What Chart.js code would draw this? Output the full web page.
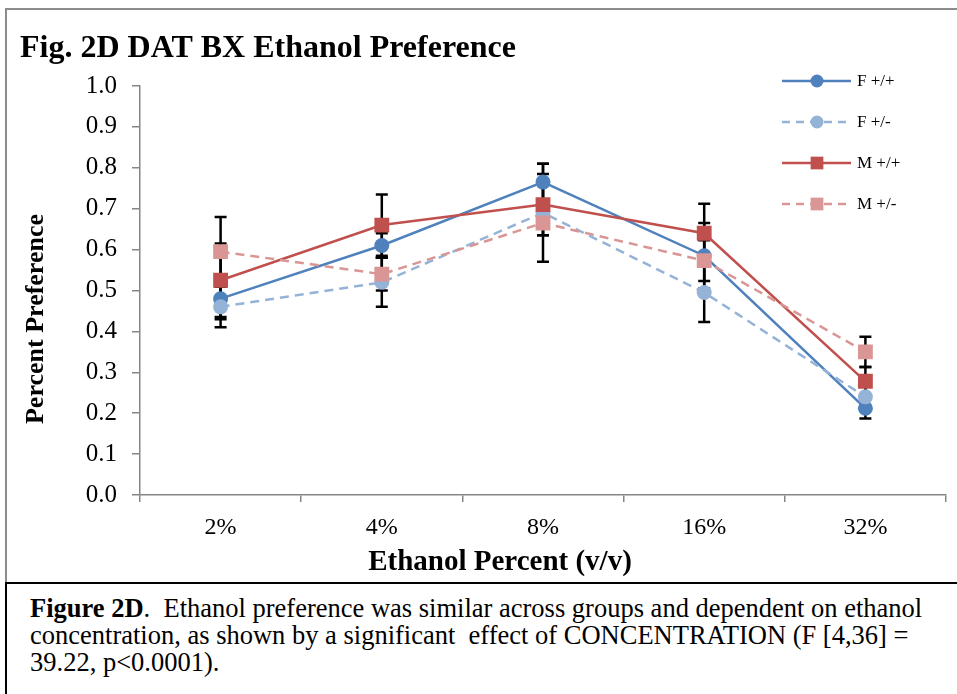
<!DOCTYPE html>
<html>
<head>
<meta charset="utf-8">
<script src="https://cdn.jsdelivr.net/npm/chart.js@4.4.0/dist/chart.umd.min.js"></script>
<style>
body { margin: 0; background: #fff; width: 957px; height: 694px; overflow: hidden; position: relative; font-family: "Liberation Serif", "Times New Roman", serif; }
#frame { position: absolute; left: 5px; top: 8px; width: 1000px; height: 580px; border-left: 2px solid #8c8c8c; border-top: 2px solid #8c8c8c; }
#wrap { position: absolute; left: 0; top: 0; width: 957px; height: 582px; }
#caption { position: absolute; left: 5px; top: 582px; width: 1000px; height: 200px; border: 2px solid #000; background: #fff; }
#caption p { margin: 0; position: absolute; left: 23px; top: 11px; width: 900px; font-size: 26.5px; line-height: 27px; color: #000; }
</style>
</head>
<body>
<div id="frame"></div>
<div id="wrap"><canvas id="chart" width="957" height="582"></canvas></div>
<div id="caption"><p><b>Figure 2D</b>.&nbsp; Ethanol preference was similar across groups and dependent on ethanol concentration, as shown by a significant&nbsp; effect of CONCENTRATION (F [4,36] = 39.22, p&lt;0.0001).</p></div>
<script>
'use strict';
// data
const categories = ['2%', '4%', '8%', '16%', '32%'];
const seriesNames = ['F +/+', 'F +/-', 'M +/+', 'M +/-'];
const fWild = [0.48, 0.61, 0.765, 0.585, 0.212];
const fHet = [0.46, 0.52, 0.69, 0.495, 0.24];
const mWild = [0.525, 0.66, 0.71, 0.64, 0.278];
const mHet = [0.595, 0.54, 0.665, 0.573, 0.35];
const fWildErr = [0.05, 0.03, 0.045, 0.08, 0.025];
const fHetErr = [0.05, 0.06, 0.12, 0.072, 0.03];
const mWildErr = [0.09, 0.075, 0.075, 0.072, 0.035];
const mHetErr = [0.085, 0.04, 0.03, 0.05, 0.037];

const serif = '"Liberation Serif", "Times New Roman", serif';
const axisGray = '#868686';

function series(label, data, err, color, style, dashed, order) {
    return {
        label: label,
        data: data,
        errors: err,
        borderColor: color,
        backgroundColor: color,
        borderWidth: 2.5,
        borderDash: dashed ? [9, 6] : [],
        pointStyle: style,
        pointRadius: style === 'rect' ? 10.5 : 7.5,
        pointHoverRadius: style === 'rect' ? 10.5 : 7.5,
        pointBorderWidth: 0,
        tension: 0,
        order: order
    };
}

const extras = {
    id: 'extras',
    beforeDatasetsDraw(chart) {
        const ctx = chart.ctx;
        const y = chart.scales.y;
        ctx.save();
        ctx.strokeStyle = '#000';
        ctx.lineWidth = 2.5;
        chart.data.datasets.forEach(function (ds, i) {
            const meta = chart.getDatasetMeta(i);
            ds.data.forEach(function (v, j) {
                const x = meta.data[j].x;
                const top = y.getPixelForValue(v + ds.errors[j]);
                const bot = y.getPixelForValue(v - ds.errors[j]);
                ctx.beginPath();
                ctx.moveTo(x, top); ctx.lineTo(x, bot);
                ctx.moveTo(x - 6, top); ctx.lineTo(x + 6, top);
                ctx.moveTo(x - 6, bot); ctx.lineTo(x + 6, bot);
                ctx.stroke();
            });
        });
        ctx.restore();
    },
    afterDraw(chart) {
        const ctx = chart.ctx;
        ctx.save();
        ctx.fillStyle = '#000';
        ctx.textBaseline = 'alphabetic';
        ctx.textAlign = 'left';
        ctx.font = 'bold 32px ' + serif;
        ctx.fillText('Fig. 2D DAT BX Ethanol Preference', 20, 57);

        ctx.textAlign = 'center';
        ctx.textBaseline = 'middle';
        ctx.font = 'bold 29px ' + serif;
        ctx.fillText('Ethanol Percent (v/v)', 500, 563);
        ctx.save();
        ctx.font = 'bold 26px ' + serif;
        ctx.translate(36, 319);
        ctx.rotate(-Math.PI / 2);
        ctx.fillText('Percent Preference', 0, 0);
        ctx.restore();

        // legend: line + marker + label
        const rows = [81, 122, 163, 204];
        chart.data.datasets.forEach(function (ds, i) {
            const ly = rows[i];
            ctx.save();
            ctx.strokeStyle = ds.borderColor;
            ctx.lineWidth = 2.5;
            ctx.setLineDash(ds.borderDash.length ? [8, 6] : []);
            ctx.beginPath();
            ctx.moveTo(782, ly); ctx.lineTo(851, ly);
            ctx.stroke();
            ctx.setLineDash([]);
            ctx.fillStyle = ds.backgroundColor;
            Chart.helpers.drawPoint(ctx, {pointStyle: ds.pointStyle, rotation: 0, radius: ds.pointStyle === 'rect' ? 9 : 6.5, borderWidth: 0}, 817, ly);
            ctx.restore();
            ctx.textAlign = 'left';
            ctx.textBaseline = 'middle';
            ctx.font = '17px ' + serif;
            ctx.fillStyle = '#000';
            ctx.fillText(ds.label, 857, ly + 1);
        });
        ctx.restore();
    }
};

new Chart(document.getElementById('chart'), {
    type: 'line',
    data: {
        labels: categories,
        datasets: [
            series(seriesNames[0], fWild, fWildErr, '#4F81BD', 'circle', false, 4),
            series(seriesNames[1], fHet, fHetErr, '#95B3D7', 'circle', true, 3),
            series(seriesNames[2], mWild, mWildErr, '#C0504D', 'rect', false, 2),
            series(seriesNames[3], mHet, mHetErr, '#D99694', 'rect', true, 1)
        ]
    },
    options: {
        responsive: false,
        animation: false,
        layout: { padding: { left: 0, right: 11, top: 86, bottom: 0 } },
        plugins: { legend: { display: false }, tooltip: { enabled: false }, title: { display: false } },
        scales: {
            x: {
                offset: true,
                grid: { offset: true, drawOnChartArea: false, drawTicks: true, tickLength: 7, color: axisGray, lineWidth: 1.5 },
                border: { color: axisGray, width: 1.5 },
                ticks: { color: '#000', font: { family: serif, size: 24 }, padding: 11 },
                afterFit(s) { s.height = 87; }
            },
            y: {
                min: 0,
                max: 1,
                grid: { drawOnChartArea: false, drawTicks: true, tickLength: 8, color: axisGray, lineWidth: 1.5 },
                border: { color: axisGray, width: 1.5 },
                ticks: { stepSize: 0.1, color: '#000', font: { family: serif, size: 25 }, padding: 15,
                    callback: function (v) { return v.toFixed(1); } },
                afterFit(s) { s.width = 140; }
            }
        }
    },
    plugins: [extras]
});
</script>
</body>
</html>
